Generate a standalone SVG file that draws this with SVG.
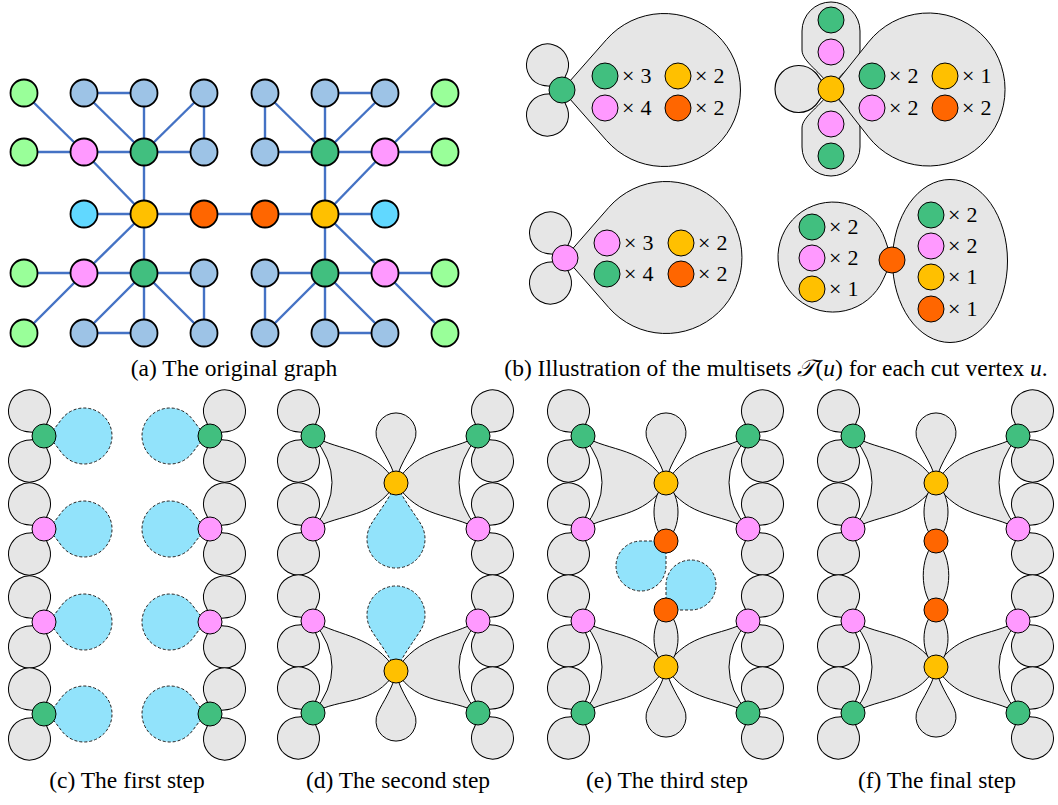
<svg xmlns="http://www.w3.org/2000/svg" xmlns:xlink="http://www.w3.org/1999/xlink" width="1058" height="805" viewBox="0 0 1058 805">
<style>
.e{stroke:#4472c4;stroke-width:2.4;fill:none}
.n{stroke:#000;stroke-width:1.8}
.v{stroke:#000;stroke-width:1}
.lg{fill:#99ff99}.lb{fill:#9dc3e6}.pk{fill:#ff99ff}.gr{fill:#41bf7f}.ye{fill:#ffc000}.or{fill:#ff6600}.cy{fill:#61d8ff}
.blob{fill:#e6e6e6;stroke:#000;stroke-width:1}
.dash{fill:#92e3fb;stroke:#222;stroke-width:1;stroke-dasharray:3 2}
.cap{font-family:"Liberation Serif",serif;font-size:23.5px;fill:#000}
.m{font-family:"Liberation Serif",serif;font-size:22px;fill:#000}
</style>
<defs>
<path id="pt" d="M0,0 C7,-3 10.3,-10.9 13.8,-14.5 A21,21 0 1 1 13.8,14.5 C10.3,10.9 7,3 0,0Z"/>
<path id="py" d="M0,0 C14,-1 32.8,-14.3 42,-18.3 A20,20 0 1 1 42,18.3 C32.8,14.3 14,1 0,0Z"/>
<path id="bc" d="M0,0 C9,-2 14.7,-14.4 20.4,-20 A28,28 0 1 1 20.4,20 C14.7,14.4 9,2 0,0Z"/>
<path id="bd" d="M0,0 C15,-6 30.7,-18.6 41,-24.8 A29,29 0 1 1 41,24.8 C30.7,18.6 15,6 0,0Z"/>
</defs>
<rect width="1058" height="805" fill="#fff"/>

<!-- (a) original graph -->
<g id="a-edges" class="e">
<line x1="24" y1="93" x2="84" y2="152"/><line x1="24" y1="152" x2="84" y2="152"/>
<line x1="84" y1="93" x2="144" y2="93"/><line x1="84" y1="93" x2="144" y2="152"/>
<line x1="144" y1="93" x2="144" y2="152"/><line x1="204" y1="93" x2="144" y2="152"/>
<line x1="204" y1="93" x2="204" y2="152"/><line x1="84" y1="152" x2="144" y2="152"/>
<line x1="144" y1="152" x2="204" y2="152"/><line x1="84" y1="152" x2="144" y2="214"/>
<line x1="144" y1="152" x2="144" y2="214"/><line x1="84" y1="214" x2="144" y2="214"/>
<line x1="144" y1="214" x2="204" y2="214"/><line x1="144" y1="214" x2="84" y2="273"/>
<line x1="144" y1="214" x2="144" y2="273"/><line x1="24" y1="273" x2="84" y2="273"/>
<line x1="84" y1="273" x2="144" y2="273"/><line x1="144" y1="273" x2="204" y2="273"/>
<line x1="24" y1="333" x2="84" y2="273"/><line x1="84" y1="333" x2="144" y2="273"/>
<line x1="84" y1="333" x2="144" y2="333"/><line x1="144" y1="333" x2="144" y2="273"/>
<line x1="204" y1="333" x2="144" y2="273"/><line x1="204" y1="273" x2="204" y2="333"/>
<line x1="204" y1="214" x2="265" y2="214"/>
<line x1="445" y1="93" x2="385" y2="152"/><line x1="445" y1="152" x2="385" y2="152"/>
<line x1="385" y1="93" x2="325" y2="93"/><line x1="385" y1="93" x2="325" y2="152"/>
<line x1="325" y1="93" x2="325" y2="152"/><line x1="265" y1="93" x2="325" y2="152"/>
<line x1="265" y1="93" x2="265" y2="152"/><line x1="385" y1="152" x2="325" y2="152"/>
<line x1="325" y1="152" x2="265" y2="152"/><line x1="385" y1="152" x2="325" y2="214"/>
<line x1="325" y1="152" x2="325" y2="214"/><line x1="385" y1="214" x2="325" y2="214"/>
<line x1="325" y1="214" x2="265" y2="214"/><line x1="325" y1="214" x2="385" y2="273"/>
<line x1="325" y1="214" x2="325" y2="273"/><line x1="445" y1="273" x2="385" y2="273"/>
<line x1="385" y1="273" x2="325" y2="273"/><line x1="325" y1="273" x2="265" y2="273"/>
<line x1="445" y1="333" x2="385" y2="273"/><line x1="385" y1="333" x2="325" y2="273"/>
<line x1="385" y1="333" x2="325" y2="333"/><line x1="325" y1="333" x2="325" y2="273"/>
<line x1="265" y1="333" x2="325" y2="273"/><line x1="265" y1="273" x2="265" y2="333"/>
</g>
<g class="n">
<g id="a1"><circle class="lg" cx="24" cy="93" r="13.5"/></g>
<g id="a2"><circle class="lb" cx="84" cy="93" r="13.5"/></g>
<g id="a3"><circle class="lb" cx="144" cy="93" r="13.5"/></g>
<g id="a4"><circle class="lb" cx="204" cy="93" r="13.5"/></g>
<g id="a5"><circle class="lg" cx="24" cy="152" r="13.5"/></g>
<g id="a6"><circle class="pk" cx="84" cy="152" r="13.5"/></g>
<g id="a7"><circle class="gr" cx="144" cy="152" r="13.5"/></g>
<g id="a8"><circle class="lb" cx="204" cy="152" r="13.5"/></g>
<g id="a9"><circle class="cy" cx="84" cy="214" r="13.5"/></g>
<g id="a10"><circle class="ye" cx="144" cy="214" r="13.5"/></g>
<g id="a11"><circle class="or" cx="204" cy="214" r="13.5"/></g>
<g id="a12"><circle class="lg" cx="24" cy="273" r="13.5"/></g>
<g id="a13"><circle class="pk" cx="84" cy="273" r="13.5"/></g>
<g id="a14"><circle class="gr" cx="144" cy="273" r="13.5"/></g>
<g id="a15"><circle class="lb" cx="204" cy="273" r="13.5"/></g>
<g id="a16"><circle class="lg" cx="24" cy="333" r="13.5"/></g>
<g id="a17"><circle class="lb" cx="84" cy="333" r="13.5"/></g>
<g id="a18"><circle class="lb" cx="144" cy="333" r="13.5"/></g>
<g id="a19"><circle class="lb" cx="204" cy="333" r="13.5"/></g>
<g id="b1"><circle class="lg" cx="445" cy="93" r="13.5"/></g>
<g id="b2"><circle class="lb" cx="385" cy="93" r="13.5"/></g>
<g id="b3"><circle class="lb" cx="325" cy="93" r="13.5"/></g>
<g id="b4"><circle class="lb" cx="265" cy="93" r="13.5"/></g>
<g id="b5"><circle class="lg" cx="445" cy="152" r="13.5"/></g>
<g id="b6"><circle class="pk" cx="385" cy="152" r="13.5"/></g>
<g id="b7"><circle class="gr" cx="325" cy="152" r="13.5"/></g>
<g id="b8"><circle class="lb" cx="265" cy="152" r="13.5"/></g>
<g id="b9"><circle class="cy" cx="385" cy="214" r="13.5"/></g>
<g id="b10"><circle class="ye" cx="325" cy="214" r="13.5"/></g>
<g id="b11"><circle class="or" cx="265" cy="214" r="13.5"/></g>
<g id="b12"><circle class="lg" cx="445" cy="273" r="13.5"/></g>
<g id="b13"><circle class="pk" cx="385" cy="273" r="13.5"/></g>
<g id="b14"><circle class="gr" cx="325" cy="273" r="13.5"/></g>
<g id="b15"><circle class="lb" cx="265" cy="273" r="13.5"/></g>
<g id="b16"><circle class="lg" cx="445" cy="333" r="13.5"/></g>
<g id="b17"><circle class="lb" cx="385" cy="333" r="13.5"/></g>
<g id="b18"><circle class="lb" cx="325" cy="333" r="13.5"/></g>
<g id="b19"><circle class="lb" cx="265" cy="333" r="13.5"/></g>
</g>
<text class="cap" x="234" y="376" text-anchor="middle">(a) The original graph</text>

<!-- (b) multisets -->
<g id="t-green">
<use href="#pt" class="blob" transform="translate(562,90) rotate(-120)"/>
<use href="#pt" class="blob" transform="translate(562,90) rotate(120)"/>
<path class="blob" d="M562,90 L606.6,39.4 A76.5,76.5 0 1 1 606.6,140.6 Z"/>
<circle class="v gr" cx="562" cy="90" r="13"/>
<circle class="v gr" cx="605" cy="76" r="13"/><text class="m" x="622" y="83">×<tspan dx="6">3</tspan></text>
<circle class="v ye" cx="678" cy="76" r="13"/><text class="m" x="695" y="83">×<tspan dx="6">2</tspan></text>
<circle class="v pk" cx="605" cy="108" r="13"/><text class="m" x="622" y="115">×<tspan dx="6">4</tspan></text>
<circle class="v or" cx="678" cy="108" r="13"/><text class="m" x="695" y="115">×<tspan dx="6">2</tspan></text>
</g>
<g id="t-yellow">
<use href="#pt" class="blob" transform="translate(831,89) rotate(180) scale(1.12)"/>
<path class="blob" d="M831,89 C822,72 802,62 802,50 L802,31 A29,29 0 0 1 860,31 L860,50 C860,62 840,72 831,89 Z"/>
<path class="blob" d="M831,89 C822,106 802,116 802,128 L802,147 A29,29 0 0 0 860,147 L860,128 C860,116 840,106 831,89 Z"/>
<path class="blob" d="M831,89 L868.5,42.1 A76.5,76.5 0 1 1 868.5,136.9 Z"/>
<circle class="v gr" cx="831" cy="20" r="13"/>
<circle class="v pk" cx="831" cy="52" r="13"/>
<circle class="v pk" cx="831" cy="124" r="13"/>
<circle class="v gr" cx="831" cy="156" r="13"/>
<circle class="v ye" cx="831" cy="89" r="13"/>
<circle class="v gr" cx="872" cy="76" r="13"/><text class="m" x="889" y="83">×<tspan dx="6">2</tspan></text>
<circle class="v ye" cx="945" cy="76" r="13"/><text class="m" x="962" y="83">×<tspan dx="6">1</tspan></text>
<circle class="v pk" cx="872" cy="108" r="13"/><text class="m" x="889" y="115">×<tspan dx="6">2</tspan></text>
<circle class="v or" cx="945" cy="108" r="13"/><text class="m" x="962" y="115">×<tspan dx="6">2</tspan></text>
</g>
<g id="t-pink">
<use href="#pt" class="blob" transform="translate(565,258) rotate(-120)"/>
<use href="#pt" class="blob" transform="translate(565,258) rotate(120)"/>
<path class="blob" d="M565,257.5 L608.8,207.4 A76,76 0 1 1 608.8,307.6 Z"/>
<circle class="v pk" cx="565" cy="258" r="13"/>
<circle class="v pk" cx="607" cy="243" r="13"/><text class="m" x="624" y="250">×<tspan dx="6">3</tspan></text>
<circle class="v ye" cx="681" cy="243" r="13"/><text class="m" x="698" y="250">×<tspan dx="6">2</tspan></text>
<circle class="v gr" cx="607" cy="274" r="13"/><text class="m" x="624" y="281">×<tspan dx="6">4</tspan></text>
<circle class="v or" cx="681" cy="274" r="13"/><text class="m" x="698" y="281">×<tspan dx="6">2</tspan></text>
</g>
<g id="t-orange">
<path class="blob" d="M892,260 L885.1,239.5 A55,55 0 1 0 883.1,279.7 Z"/>
<ellipse class="blob" cx="950" cy="261" rx="57.5" ry="81.5"/>
<circle class="v or" cx="892" cy="260" r="13"/>
<circle class="v gr" cx="812" cy="227" r="13"/><text class="m" x="829" y="234">×<tspan dx="6">2</tspan></text>
<circle class="v pk" cx="812" cy="258" r="13"/><text class="m" x="829" y="265">×<tspan dx="6">2</tspan></text>
<circle class="v ye" cx="812" cy="289" r="13"/><text class="m" x="829" y="296">×<tspan dx="6">1</tspan></text>
<circle class="v gr" cx="931" cy="215" r="13"/><text class="m" x="948" y="222">×<tspan dx="6">2</tspan></text>
<circle class="v pk" cx="931" cy="246" r="13"/><text class="m" x="948" y="253">×<tspan dx="6">2</tspan></text>
<circle class="v ye" cx="931" cy="277" r="13"/><text class="m" x="948" y="284">×<tspan dx="6">1</tspan></text>
<circle class="v or" cx="931" cy="309" r="13"/><text class="m" x="948" y="316">×<tspan dx="6">1</tspan></text>
</g>
<text class="cap" x="776" y="376" text-anchor="middle">(b) Illustration of the multisets <tspan font-family="'DejaVu Serif','DejaVu Sans','Noto Sans',serif" font-style="italic">𝒯</tspan>(<tspan font-style="italic">u</tspan>) for each cut vertex <tspan font-style="italic">u</tspan>.</text>

<!-- (c) first step -->
<g id="c-panel">
<g id="c-l1"><use href="#pt" class="blob" transform="translate(44,436) rotate(-120)"/><use href="#pt" class="blob" transform="translate(44,436) rotate(120)"/><use href="#bc" class="dash" transform="translate(44,436)"/><circle class="v gr" cx="44" cy="436" r="12"/></g>
<g id="c-l2"><use href="#pt" class="blob" transform="translate(44,529) rotate(-120)"/><use href="#pt" class="blob" transform="translate(44,529) rotate(120)"/><use href="#bc" class="dash" transform="translate(44,529)"/><circle class="v pk" cx="44" cy="529" r="12"/></g>
<g id="c-l3"><use href="#pt" class="blob" transform="translate(44,622) rotate(-120)"/><use href="#pt" class="blob" transform="translate(44,622) rotate(120)"/><use href="#bc" class="dash" transform="translate(44,622)"/><circle class="v pk" cx="44" cy="622" r="12"/></g>
<g id="c-l4"><use href="#pt" class="blob" transform="translate(44,714) rotate(-120)"/><use href="#pt" class="blob" transform="translate(44,714) rotate(120)"/><use href="#bc" class="dash" transform="translate(44,714)"/><circle class="v gr" cx="44" cy="714" r="12"/></g>
<g id="c-r1"><use href="#pt" class="blob" transform="translate(210,436) rotate(-60)"/><use href="#pt" class="blob" transform="translate(210,436) rotate(60)"/><use href="#bc" class="dash" transform="translate(210,436) rotate(180)"/><circle class="v gr" cx="210" cy="436" r="12"/></g>
<g id="c-r2"><use href="#pt" class="blob" transform="translate(210,529) rotate(-60)"/><use href="#pt" class="blob" transform="translate(210,529) rotate(60)"/><use href="#bc" class="dash" transform="translate(210,529) rotate(180)"/><circle class="v pk" cx="210" cy="529" r="12"/></g>
<g id="c-r3"><use href="#pt" class="blob" transform="translate(210,622) rotate(-60)"/><use href="#pt" class="blob" transform="translate(210,622) rotate(60)"/><use href="#bc" class="dash" transform="translate(210,622) rotate(180)"/><circle class="v pk" cx="210" cy="622" r="12"/></g>
<g id="c-r4"><use href="#pt" class="blob" transform="translate(210,714) rotate(-60)"/><use href="#pt" class="blob" transform="translate(210,714) rotate(60)"/><use href="#bc" class="dash" transform="translate(210,714) rotate(180)"/><circle class="v gr" cx="210" cy="714" r="12"/></g>
</g>
<text class="cap" x="127" y="788" text-anchor="middle">(c) The first step</text>

<!-- (d) second step -->
<g id="d-panel">
<g id="d-petals">
<use href="#pt" class="blob" transform="translate(313,436) rotate(-120)"/><use href="#pt" class="blob" transform="translate(313,436) rotate(120)"/>
<use href="#pt" class="blob" transform="translate(313,529) rotate(-120)"/><use href="#pt" class="blob" transform="translate(313,529) rotate(120)"/>
<use href="#pt" class="blob" transform="translate(313,621) rotate(-120)"/><use href="#pt" class="blob" transform="translate(313,621) rotate(120)"/>
<use href="#pt" class="blob" transform="translate(313,713) rotate(-120)"/><use href="#pt" class="blob" transform="translate(313,713) rotate(120)"/>
<use href="#pt" class="blob" transform="translate(478,436) rotate(-60)"/><use href="#pt" class="blob" transform="translate(478,436) rotate(60)"/>
<use href="#pt" class="blob" transform="translate(478,529) rotate(-60)"/><use href="#pt" class="blob" transform="translate(478,529) rotate(60)"/>
<use href="#pt" class="blob" transform="translate(478,621) rotate(-60)"/><use href="#pt" class="blob" transform="translate(478,621) rotate(60)"/>
<use href="#pt" class="blob" transform="translate(478,713) rotate(-60)"/><use href="#pt" class="blob" transform="translate(478,713) rotate(60)"/>
<use href="#py" class="blob" transform="translate(396,483) rotate(-90)"/>
<use href="#py" class="blob" transform="translate(396,671) rotate(90)"/>
</g>
<path class="blob" d="M313,436 C340,452 374,447 396,483 C374,519 340,513 313,529 Q351,482.5 313,436Z"/>
<path class="blob" d="M478,436 C451,452 418,447 396,483 C418,519 451,513 478,529 Q440,482.5 478,436Z"/>
<path class="blob" d="M313,621 C340,637 374,635 396,671 C374,707 340,697 313,713 Q351,667 313,621Z"/>
<path class="blob" d="M478,621 C451,637 418,635 396,671 C418,707 451,697 478,713 Q440,667 478,621Z"/>
<use href="#bd" class="dash" transform="translate(396,483) rotate(90)"/>
<use href="#bd" class="dash" transform="translate(396,671) rotate(-90)"/>
<circle class="v gr" cx="313" cy="436" r="12"/><circle class="v pk" cx="313" cy="529" r="12"/><circle class="v pk" cx="313" cy="621" r="12"/><circle class="v gr" cx="313" cy="713" r="12"/>
<circle class="v gr" cx="478" cy="436" r="12"/><circle class="v pk" cx="478" cy="529" r="12"/><circle class="v pk" cx="478" cy="621" r="12"/><circle class="v gr" cx="478" cy="713" r="12"/>
<circle class="v ye" cx="396" cy="483" r="12"/><circle class="v ye" cx="396" cy="671" r="12"/>
</g>
<text class="cap" x="398" y="788" text-anchor="middle">(d) The second step</text>

<!-- (e) third step -->
<g id="e-panel">
<g id="e-petals">
<use href="#pt" class="blob" transform="translate(583,436) rotate(-120)"/><use href="#pt" class="blob" transform="translate(583,436) rotate(120)"/>
<use href="#pt" class="blob" transform="translate(583,529) rotate(-120)"/><use href="#pt" class="blob" transform="translate(583,529) rotate(120)"/>
<use href="#pt" class="blob" transform="translate(583,621) rotate(-120)"/><use href="#pt" class="blob" transform="translate(583,621) rotate(120)"/>
<use href="#pt" class="blob" transform="translate(583,713) rotate(-120)"/><use href="#pt" class="blob" transform="translate(583,713) rotate(120)"/>
<use href="#pt" class="blob" transform="translate(748,436) rotate(-60)"/><use href="#pt" class="blob" transform="translate(748,436) rotate(60)"/>
<use href="#pt" class="blob" transform="translate(748,529) rotate(-60)"/><use href="#pt" class="blob" transform="translate(748,529) rotate(60)"/>
<use href="#pt" class="blob" transform="translate(748,621) rotate(-60)"/><use href="#pt" class="blob" transform="translate(748,621) rotate(60)"/>
<use href="#pt" class="blob" transform="translate(748,713) rotate(-60)"/><use href="#pt" class="blob" transform="translate(748,713) rotate(60)"/>
<use href="#py" class="blob" transform="translate(666,483) rotate(-90)"/>
<use href="#py" class="blob" transform="translate(666,667) rotate(90)"/>
</g>
<path class="blob" d="M583,436 C610,452 644,447 666,483 C644,519 610,513 583,529 Q621,482.5 583,436Z"/>
<path class="blob" d="M748,436 C721,452 688,447 666,483 C688,519 721,513 748,529 Q710,482.5 748,436Z"/>
<path class="blob" d="M583,621 C610,637 644,631 666,667 C644,703 610,697 583,713 Q621,667 583,621Z"/>
<path class="blob" d="M748,621 C721,637 688,631 666,667 C688,703 721,697 748,713 Q710,667 748,621Z"/>
<path class="blob" d="M666,483 C682,495 682,529 666,541 C650,529 650,495 666,483Z"/>
<path class="blob" d="M666,610 C682,622 682,655 666,667 C650,655 650,622 666,610Z"/>
<path class="dash" d="M666,541 L666,566 A25,25 0 1 1 641,541Z"/>
<path class="dash" d="M666,610 L666,585 A25,25 0 1 1 691,610Z"/>
<circle class="v gr" cx="583" cy="436" r="12"/><circle class="v pk" cx="583" cy="529" r="12"/><circle class="v pk" cx="583" cy="621" r="12"/><circle class="v gr" cx="583" cy="713" r="12"/>
<circle class="v gr" cx="748" cy="436" r="12"/><circle class="v pk" cx="748" cy="529" r="12"/><circle class="v pk" cx="748" cy="621" r="12"/><circle class="v gr" cx="748" cy="713" r="12"/>
<circle class="v ye" cx="666" cy="483" r="12"/><circle class="v ye" cx="666" cy="667" r="12"/>
<circle class="v or" cx="666" cy="541" r="12"/><circle class="v or" cx="666" cy="610" r="12"/>
</g>
<text class="cap" x="667" y="788" text-anchor="middle">(e) The third step</text>

<!-- (f) final step -->
<g id="f-panel">
<g id="f-petals">
<use href="#pt" class="blob" transform="translate(853,436) rotate(-120)"/><use href="#pt" class="blob" transform="translate(853,436) rotate(120)"/>
<use href="#pt" class="blob" transform="translate(853,529) rotate(-120)"/><use href="#pt" class="blob" transform="translate(853,529) rotate(120)"/>
<use href="#pt" class="blob" transform="translate(853,621) rotate(-120)"/><use href="#pt" class="blob" transform="translate(853,621) rotate(120)"/>
<use href="#pt" class="blob" transform="translate(853,713) rotate(-120)"/><use href="#pt" class="blob" transform="translate(853,713) rotate(120)"/>
<use href="#pt" class="blob" transform="translate(1018,436) rotate(-60)"/><use href="#pt" class="blob" transform="translate(1018,436) rotate(60)"/>
<use href="#pt" class="blob" transform="translate(1018,529) rotate(-60)"/><use href="#pt" class="blob" transform="translate(1018,529) rotate(60)"/>
<use href="#pt" class="blob" transform="translate(1018,621) rotate(-60)"/><use href="#pt" class="blob" transform="translate(1018,621) rotate(60)"/>
<use href="#pt" class="blob" transform="translate(1018,713) rotate(-60)"/><use href="#pt" class="blob" transform="translate(1018,713) rotate(60)"/>
<use href="#py" class="blob" transform="translate(936,483) rotate(-90)"/>
<use href="#py" class="blob" transform="translate(936,667) rotate(90)"/>
</g>
<path class="blob" d="M853,436 C880,452 914,447 936,483 C914,519 880,513 853,529 Q891,482.5 853,436Z"/>
<path class="blob" d="M1018,436 C991,452 958,447 936,483 C958,519 991,513 1018,529 Q980,482.5 1018,436Z"/>
<path class="blob" d="M853,621 C880,637 914,631 936,667 C914,703 880,697 853,713 Q891,667 853,621Z"/>
<path class="blob" d="M1018,621 C991,637 958,631 936,667 C958,703 991,697 1018,713 Q980,667 1018,621Z"/>
<path class="blob" d="M936,483 C952,495 952,529 936,541 C920,529 920,495 936,483Z"/>
<path class="blob" d="M936,541 C953,556 953,595 936,610 C919,595 919,556 936,541Z"/>
<path class="blob" d="M936,610 C952,622 952,655 936,667 C920,655 920,622 936,610Z"/>
<circle class="v gr" cx="853" cy="436" r="12"/><circle class="v pk" cx="853" cy="529" r="12"/><circle class="v pk" cx="853" cy="621" r="12"/><circle class="v gr" cx="853" cy="713" r="12"/>
<circle class="v gr" cx="1018" cy="436" r="12"/><circle class="v pk" cx="1018" cy="529" r="12"/><circle class="v pk" cx="1018" cy="621" r="12"/><circle class="v gr" cx="1018" cy="713" r="12"/>
<circle class="v ye" cx="936" cy="483" r="12"/><circle class="v ye" cx="936" cy="667" r="12"/>
<circle class="v or" cx="936" cy="541" r="12"/><circle class="v or" cx="936" cy="610" r="12"/>
</g>
<text class="cap" x="937" y="788" text-anchor="middle">(f) The final step</text>
</svg>
